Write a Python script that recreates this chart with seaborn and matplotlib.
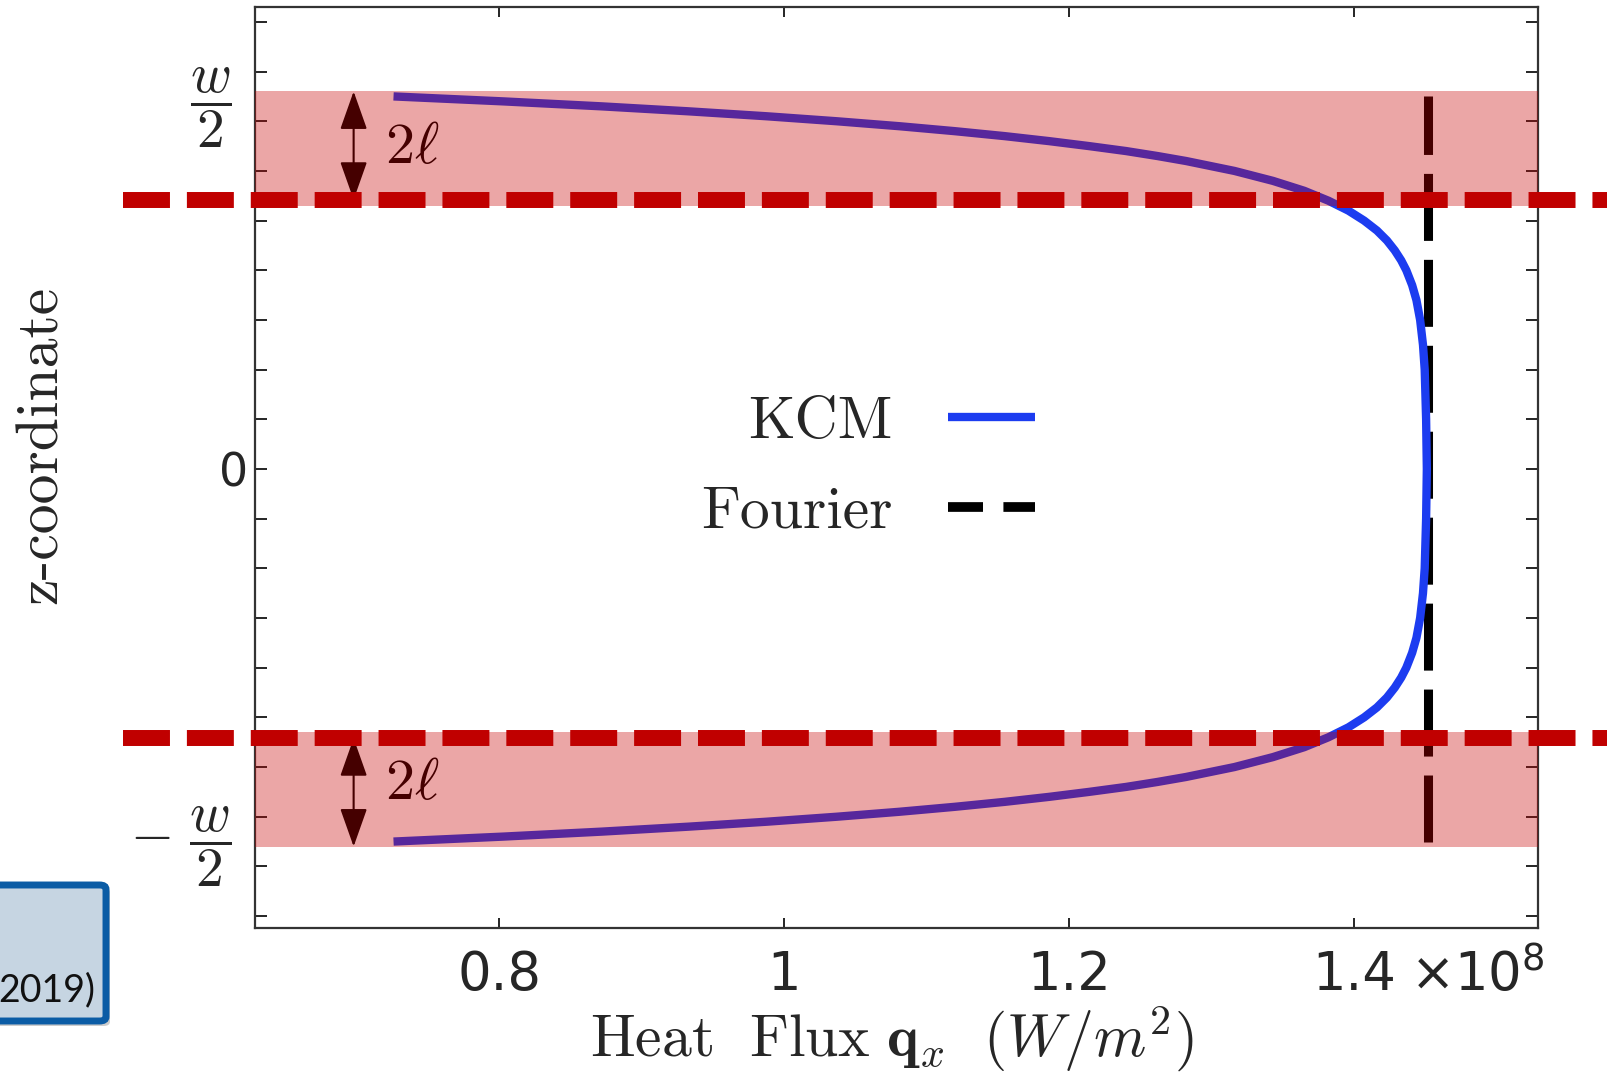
import matplotlib
matplotlib.use("Agg")
import matplotlib.pyplot as plt
import seaborn as sns
import pandas as pd
from matplotlib.lines import Line2D
from matplotlib.patches import FancyArrowPatch, FancyBboxPatch

# ---------------- data ----------------
kcm_z = [7.5, 7.4, 7.3, 7.2, 7.1, 7.0, 6.9, 6.8, 6.7, 6.6, 6.5, 6.4, 6.3, 6.2,
         6.0, 5.8, 5.6, 5.4, 5.2, 5.0, 4.8, 4.6, 4.4, 4.2, 4.0, 3.7, 3.4, 3.0,
         2.5, 2.0, 1.0, 0.0, -1.0, -2.0, -2.5, -3.0, -3.4, -3.7, -4.0, -4.2,
         -4.4, -4.6, -4.8, -5.0, -5.2, -5.4, -5.6, -5.8, -6.0, -6.2, -6.3, -6.4,
         -6.5, -6.6, -6.7, -6.8, -6.9, -7.0, -7.1, -7.2, -7.3, -7.4, -7.5]
kcm_x = [0.726, 0.803, 0.872, 0.933, 0.988, 1.037, 1.081, 1.120, 1.155, 1.186,
         1.214, 1.240, 1.262, 1.282, 1.316, 1.343, 1.365, 1.382, 1.396, 1.407,
         1.416, 1.423, 1.4285, 1.433, 1.4366, 1.4407, 1.4437, 1.4463, 1.4483,
         1.4495, 1.4505, 1.451, 1.4505, 1.4495, 1.4483, 1.4463, 1.4437, 1.4407,
         1.4366, 1.433, 1.4285, 1.423, 1.416, 1.407, 1.396, 1.382, 1.365, 1.343,
         1.316, 1.282, 1.262, 1.240, 1.214, 1.186, 1.155, 1.120, 1.081, 1.037,
         0.988, 0.933, 0.872, 0.803, 0.726]
fourier_z = [-7.5, 7.5]
fourier_x = [1.452, 1.452]
interface_z = [5.42, -5.42]
band_lo = [5.3, -7.6]
band_hi = [7.6, -5.3]
arrow_from = [7.6, -5.42]
arrow_to = [5.42, -7.6]
arrow_x = 0.698
label_2l_x = 0.72
label_2l_z = [6.5, -6.32]
xticks = [0.8, 1.0, 1.2, 1.4]
xtick_labels = ['0.8', '1', '1.2', '1.4']
yticks = list(range(-9, 10))
ytick_labels = ['0' if t == 0 else '' for t in yticks]
wtick_pos = [-7.25, 7.64]
wtick_labels = [r'$-\ \dfrac{w}{2}$', r'$\dfrac{w}{2}$']
xlim = (0.6288, 1.529)
ylim = (-9.24, 9.3)

# ---------------- style ----------------
sns.set_style("white")
plt.rcParams['mathtext.fontset'] = 'cm'
plt.rcParams['font.family'] = ['DejaVu Sans']

BLUE = '#1c3cf0'
RED = '#c00000'
BAND = (198 / 255, 0, 0)

W, H = 1608, 1074
fig = plt.figure(figsize=(W / 100, H / 100), dpi=100)
ax = fig.add_axes([255 / W, (H - 928) / H, 1283 / W, 921 / H])

df_kcm = pd.DataFrame({'x': kcm_x, 'z': kcm_z})
df_f = pd.DataFrame({'x': fourier_x, 'z': fourier_z})

sns.lineplot(data=df_f, x='x', y='z', sort=False, estimator=None, ax=ax,
             color='black', lw=6.5, linestyle=(0, (7.42, 2.1)), legend=False,
             zorder=2)
sns.lineplot(data=df_kcm, x='x', y='z', sort=False, estimator=None, ax=ax,
             color=BLUE, lw=6, legend=False, zorder=2.2,
             solid_capstyle='butt', solid_joinstyle='round')

# arrows and 2l labels (below the translucent band)
for z0, z1, zl in zip(arrow_from, arrow_to, label_2l_z):
    arr = FancyArrowPatch((arrow_x, z0), (arrow_x, z1),
                          arrowstyle='<|-|>,head_length=2.4,head_width=0.85',
                          mutation_scale=10, color='black', lw=1.5,
                          shrinkA=0, shrinkB=0, zorder=2.5)
    ax.add_patch(arr)
    ax.text(label_2l_x, zl, r'$2\ell$', fontsize=42, va='center', ha='left',
            color='black', zorder=2.5)

for lo, hi in zip(band_lo, band_hi):
    ax.axhspan(lo, hi, color=BAND, alpha=0.35, lw=0, zorder=3)

for z in interface_z:
    ax.axhline(z, xmin=-0.1029, xmax=1.08, clip_on=False, color=RED,
               lw=11.5, linestyle=(0, (2.94, 1.06)), zorder=4)

ax.set_xlim(*xlim)
ax.set_ylim(*ylim)

ax.set_xticks(xticks, labels=xtick_labels)
ax.set_yticks(yticks, labels=ytick_labels)
ax.set_yticks(wtick_pos, labels=wtick_labels, minor=True)
ax.tick_params(axis='x', which='major', direction='in', length=7.2, width=1.2,
               top=True, bottom=True, labelsize=38, pad=15, color='black')
ax.tick_params(axis='y', which='major', direction='in', length=8.6, width=1.2,
               left=True, right=True, labelsize=33, pad=5, color='black')
ax.tick_params(axis='y', which='minor', length=0, labelsize=40, pad=17)

for s in ax.spines.values():
    s.set_color('#333333')
    s.set_linewidth(1.6)
    s.set_visible(True)

ax.set_xlabel(r'$\mathrm{Heat\ \ Flux}\ \mathbf{q}_x\ \ (W/m^2)$', fontsize=43)
ax.xaxis.set_label_coords(0.4965, -0.083)
ax.xaxis.label.set_va('top')
ax.set_ylabel('z-coordinate', fontsize=43, family='cmr10')
ax.yaxis.set_label_coords(-0.145, 0.525)

fig.text(1410 / W, 1 - 991 / H, r'$\times\mathregular{10^8}$', fontsize=38,
         va='baseline', ha='left', math_fontfamily='dejavusans')

# legend
handles = [Line2D([], [], color=BLUE, lw=6, solid_capstyle='butt'),
           Line2D([], [], color='black', lw=7, linestyle=(0, (3.6, 2.1)))]
ax.legend(handles, ['KCM', 'Fourier'], loc='center',
          bbox_to_anchor=(868 / W, 1 - 468 / H), bbox_transform=fig.transFigure,
          frameon=False, markerfirst=False, handlelength=1.46,
          handletextpad=0.92, labelspacing=0.6, borderpad=0,
          prop={'family': 'cmr10', 'size': 43})

# partial slide box at bottom left
shadow = FancyBboxPatch((-20 / W, (H - 1026) / H), 130 / W, 138 / H,
                        boxstyle='round,pad=0,rounding_size=0.004',
                        transform=fig.transFigure, facecolor='#9a9a9a',
                        edgecolor='none', alpha=0.5, zorder=1)
box = FancyBboxPatch((-24 / W, (H - 1021) / H), 130 / W, 136 / H,
                     boxstyle='round,pad=0,rounding_size=0.004',
                     transform=fig.transFigure, facecolor='#c6d5e2',
                     edgecolor='#0b5ca5', lw=5, zorder=2)
fig.patches.extend([shadow, box])
fig.text(95 / W, 1 - 1001 / H, '2019)', fontsize=27, family='Lato',
         ha='right', va='baseline', color='#111111', zorder=3)

fig.savefig('out.png', dpi=100)
